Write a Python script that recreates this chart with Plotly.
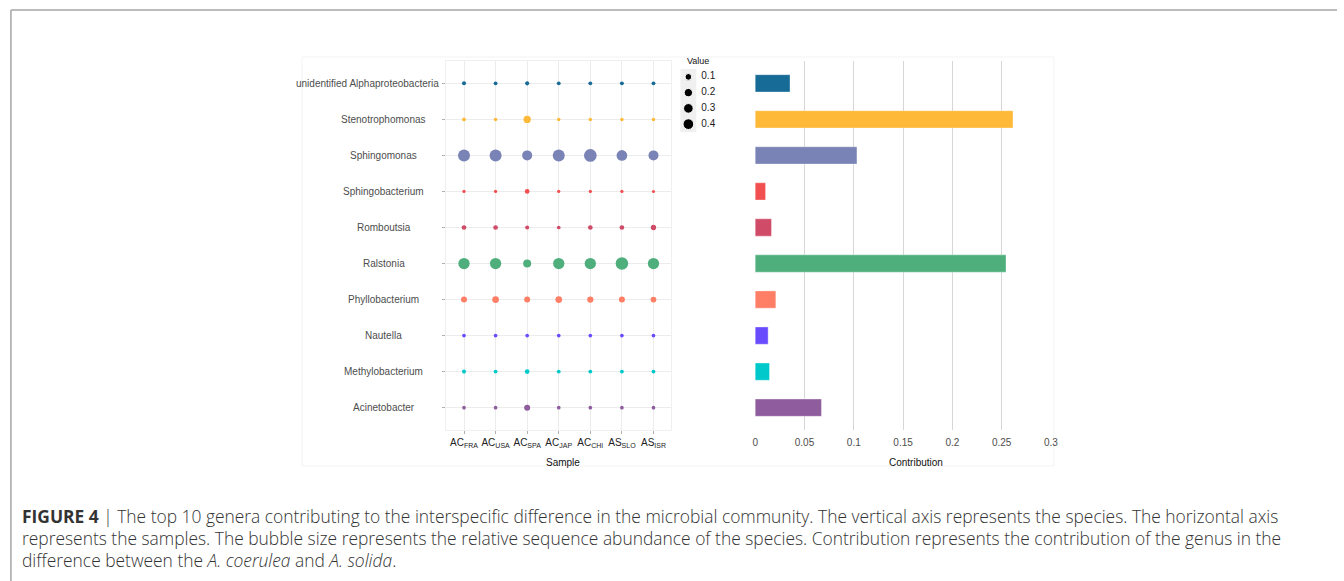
import numpy as np
import plotly.graph_objects as go

W, H = 1344, 581

# Genera, bottom to top on the shared y axis
genera = [
    "Acinetobacter", "Methylobacterium", "Nautella", "Phyllobacterium",
    "Ralstonia", "Romboutsia", "Sphingobacterium", "Sphingomonas",
    "Stenotrophomonas", "unidentified Alphaproteobacteria",
]
samples = ["ACFRA", "ACUSA", "ACSPA", "ACJAP", "ACCHI", "ASSLO", "ASISR"]
sample_labels = [
    "AC<sub>FRA</sub>", "AC<sub>USA</sub>", "AC<sub>SPA</sub>", "AC<sub>JAP</sub>",
    "AC<sub>CHI</sub>", "AS<sub>SLO</sub>", "AS<sub>ISR</sub>",
]

# Relative sequence abundance per genus, one value per sample
acinetobacter = [0.006, 0.006, 0.068, 0.006, 0.006, 0.006, 0.006]
methylobacterium = [0.011, 0.008, 0.025, 0.008, 0.008, 0.008, 0.008]
nautella = [0.006, 0.006, 0.006, 0.006, 0.006, 0.006, 0.006]
phyllobacterium = [0.068, 0.100, 0.068, 0.100, 0.080, 0.068, 0.056]
ralstonia = [0.46, 0.46, 0.176, 0.46, 0.46, 0.60, 0.46]
romboutsia = [0.025, 0.025, 0.011, 0.006, 0.025, 0.025, 0.042]
sphingobacterium = [0.002, 0.002, 0.025, 0.002, 0.002, 0.002, 0.001]
sphingomonas = [0.54, 0.54, 0.333, 0.54, 0.62, 0.40, 0.333]
stenotrophomonas = [0.006, 0.004, 0.132, 0.004, 0.004, 0.004, 0.004]
unidentified_alpha = [0.011, 0.008, 0.012, 0.008, 0.008, 0.008, 0.008]
abundance = [
    acinetobacter, methylobacterium, nautella, phyllobacterium, ralstonia,
    romboutsia, sphingobacterium, sphingomonas, stenotrophomonas, unidentified_alpha,
]

# Contribution of each genus to the between-species difference
contribution = [0.0672, 0.0145, 0.0131, 0.0209, 0.2544, 0.0165, 0.0105, 0.1032, 0.2615, 0.0353]

colors = [
    "#8F5C9E", "#00C9CC", "#6A4CFF", "#FF7F66", "#4EAF7C",
    "#D04B68", "#F25050", "#7A83B5", "#FEB938", "#176B97",
]

legend_values = [0.1, 0.2, 0.3, 0.4]
legend_labels = ["0.1", "0.2", "0.3", "0.4"]


def bubble_size(v):
    # diameter grows with the square root of the value (area scale)
    return 2.7 + 12.65 * np.sqrt(np.asarray(v, dtype=float))


def px_x(x):
    return x / W


def px_y(y):
    return 1 - y / H


FONT = "Liberation Sans, Arial, sans-serif"
CAPTION_FONT = "Open Sans, Liberation Sans, sans-serif"

fig = go.Figure()

# Bubble panel
for g, vals, c in zip(genera, abundance, colors):
    fig.add_trace(go.Scatter(
        x=samples, y=[g] * len(samples), mode="markers",
        marker=dict(size=bubble_size(vals), color=c, opacity=1, line=dict(width=0)),
        xaxis="x", yaxis="y", showlegend=False, hoverinfo="x+y",
    ))

# Contribution bars
fig.add_trace(go.Bar(
    x=contribution, y=genera, orientation="h", width=0.48,
    marker=dict(color=colors, line=dict(color="rgba(255,255,255,0.35)", width=1)),
    xaxis="x2", yaxis="y2", showlegend=False,
))

# Size key for the bubbles: circles, then their labels
fig.add_trace(go.Scatter(
    x=[8] * len(legend_values), y=list(range(len(legend_values))),
    mode="markers", marker=dict(size=bubble_size(legend_values), color="black", opacity=1),
    xaxis="x3", yaxis="y3", showlegend=False, cliponaxis=False, hoverinfo="skip",
))
fig.add_trace(go.Scatter(
    x=[21] * len(legend_values), y=list(range(len(legend_values))),
    mode="text", text=legend_labels, textposition="middle right",
    textfont=dict(family=FONT, size=10, color="#1a1a1a"),
    xaxis="x3", yaxis="y3", showlegend=False, cliponaxis=False, hoverinfo="skip",
))

yr = [-0.62, 9.62]
y_dom = [px_y(430), px_y(61)]

fig.update_layout(
    width=W, height=H, margin=dict(l=0, r=0, t=0, b=0),
    paper_bgcolor="white", plot_bgcolor="white",
    font=dict(family=FONT, size=10, color="#4d4d4d"),
    xaxis=dict(
        domain=[px_x(447), px_x(674)], type="category", categoryorder="array",
        categoryarray=samples, range=[-0.57, 6.57],
        tickvals=samples, ticktext=sample_labels,
        tickfont=dict(family=FONT, size=10, color="#222222"),
        showgrid=True, gridcolor="#ececec", gridwidth=1, zeroline=False,
        ticks="outside", ticklen=3, tickcolor="#b0b0b0",
        showline=True, mirror=True, linecolor="#f0f0f0", linewidth=1,
    ),
    yaxis=dict(
        domain=y_dom, type="category", categoryorder="array",
        categoryarray=genera, range=yr, showticklabels=False,
        showgrid=True, gridcolor="#ececec", gridwidth=1, zeroline=False,
        ticks="outside", ticklen=3, tickcolor="#b0b0b0",
        showline=True, mirror=True, linecolor="#f0f0f0", linewidth=1,
    ),
    xaxis2=dict(
        domain=[px_x(757.5), px_x(1056.8)], range=[-0.0008, 0.3008],
        tickvals=[0, 0.05, 0.1, 0.15, 0.2, 0.25, 0.3],
        ticktext=["0", "0.05", "0.1", "0.15", "0.2", "0.25", "0.3"],
        tickfont=dict(family=FONT, size=10, color="#4d4d4d"),
        showgrid=True, gridcolor="#d6d6d6", gridwidth=1, zeroline=False,
        ticks="outside", ticklen=3, tickcolor="rgba(0,0,0,0)",
        showline=False, anchor="y2",
    ),
    yaxis2=dict(
        domain=y_dom, type="category", categoryorder="array",
        categoryarray=genera, range=yr, showticklabels=False,
        showgrid=False, zeroline=False, anchor="x2",
    ),
    xaxis3=dict(
        domain=[px_x(683), px_x(723)], range=[0, 40], visible=False, anchor="y3",
    ),
    yaxis3=dict(
        domain=[px_y(132), px_y(69)], range=[3.5, -0.5], visible=False, anchor="x3",
    ),
)

shapes = [
    # figure frame
    dict(type="line", xref="paper", yref="paper", x0=px_x(9), x1=1, y0=px_y(10), y1=px_y(10),
         line=dict(color="#a6a6a6", width=1.5)),
    dict(type="line", xref="paper", yref="paper", x0=px_x(9), x1=px_x(9), y0=px_y(10), y1=0,
         line=dict(color="#a6a6a6", width=1.5)),
    # faint outline of the chart area
    dict(type="rect", xref="paper", yref="paper", x0=px_x(302), x1=px_x(1059), y0=px_y(466), y1=px_y(57),
         line=dict(color="#f3f3f3", width=1), layer="below"),
    # grey background behind the size key
    dict(type="rect", xref="paper", yref="paper", x0=px_x(683), x1=px_x(699), y0=px_y(132), y1=px_y(69),
         fillcolor="#f0f0f0", line=dict(width=0), layer="below"),
]
fig.update_layout(shapes=shapes)

annotations = [
    dict(text="Value", x=px_x(701), y=px_y(61), xref="paper", yref="paper",
         xanchor="center", yanchor="middle",
         showarrow=False, font=dict(family=FONT, size=9, color="#111111")),
    dict(text="Sample", x=px_x(565), y=px_y(462), xref="paper", yref="paper",
         xanchor="center", yanchor="middle",
         showarrow=False, font=dict(family=FONT, size=10, color="#111111")),
    dict(text="Contribution", x=px_x(920), y=px_y(462), xref="paper", yref="paper",
         xanchor="center", yanchor="middle",
         showarrow=False, font=dict(family=FONT, size=10, color="#111111")),
]

# Genus labels of the bubble panel, centred in the label column
for g in genera:
    long_label = len(g) > 20
    annotations.append(dict(
        text=g, xref="paper", yref="y", y=g,
        x=px_x(442) if long_label else px_x(384.5),
        xanchor="right" if long_label else "center", yanchor="middle",
        showarrow=False, font=dict(family=FONT, size=10, color="#4d4d4d"),
    ))

caption = [
    "<b>FIGURE 4</b> | The top 10 genera contributing to the interspecific difference in the microbial "
    "community. The vertical axis represents the species. The horizontal axis",
    "represents the samples. The bubble size represents the relative sequence abundance of the species. "
    "Contribution represents the contribution of the genus in the",
    "difference between the <i>A. coerulea</i> and <i>A. solida</i>.",
]
for line, yy in zip(caption, [516, 538, 560]):
    annotations.append(dict(
        text=line, x=px_x(19), y=px_y(yy), xref="paper", yref="paper",
        xanchor="left", yanchor="middle", showarrow=False, align="left",
        borderpad=0,
        font=dict(family=CAPTION_FONT, size=17.4, color="#333333", weight=300),
    ))
fig.update_layout(annotations=annotations)

fig.write_html("out.html")
